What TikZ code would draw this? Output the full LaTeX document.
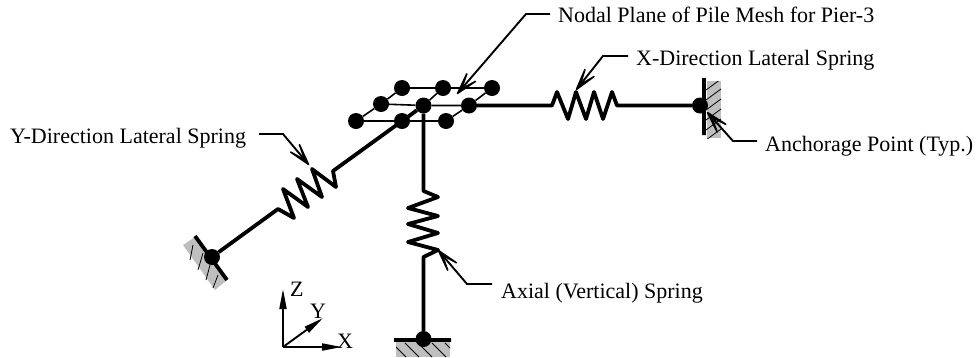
\documentclass[tikz,border=0pt]{standalone}
\usepackage{fontspec}
\setmainfont{Liberation Serif}
\usetikzlibrary{arrows.meta}
\definecolor{hatchgray}{gray}{0.75}
\tikzset{
 x=1pt,y=-1pt,
 dot/.style={circle,fill=black,inner sep=0pt,minimum size=16pt},
 mesh/.style={line width=1.6pt},
 thickline/.style={line width=3.8pt,line join=round},
 leader/.style={line width=1.9pt,-{Stealth[length=40pt,width=22pt,inset=29pt,line width=1.6pt,round]}},
 axisline/.style={line width=1.9pt,-{Stealth[length=20pt,width=7pt,inset=0pt]}},
 txt/.style={font=\fontsize{22}{24}\selectfont,inner sep=0pt,anchor=west},
 hatch/.style={line width=0.8pt}
}
\begin{document}
\begin{tikzpicture}
\useasboundingbox (0,0) rectangle (979,357);
\begin{scope}
\fill[hatchgray] (707,81) rectangle (721,138);
\clip (700,81) rectangle (721,138);
\foreach \a in {90,100,110,120,130,140}{\draw[hatch] (706,\a) -- (721,\a-11);}
\end{scope}
\begin{scope}
\fill[hatchgray] (396,340) rectangle (450,357);
\clip (396,340) rectangle (450,357);
\foreach \a in {392,405,418,432,445}{\draw[hatch] (\a,343) -- (\a+14,357);}
\end{scope}
\fill[hatchgray] (183,245) -- (215,290) -- (227,280) -- (195,237) -- cycle;
\foreach \a/\b/\c/\d in {193/245/190/260,203/253/198/270,210/265/206/280,218/275/213/288}{\draw[hatch] (\a,\b) -- (\c,\d);}
\node[dot] (n1) at (402,88) {};
\node[dot] (n2) at (443,88) {};
\node[dot] (n3) at (492,88) {};
\node[dot] (n4) at (381,104) {};
\node[dot] (n5) at (423.5,105.5) {};
\node[dot] (n6) at (469,105.5) {};
\node[dot] (n7) at (356,121) {};
\node[dot] (n8) at (402,121) {};
\node[dot] (n9) at (446,121) {};
\draw[mesh] (n1)--(n2)--(n3) (n4)--(n5)--(n6) (n7)--(n8)--(n9)
 (n7)--(n4)--(n1) (n2)--(n5)--(n8) (n9)--(n6)--(n3);
\node[dot] (ax) at (700,105.5) {};
\node[dot] (ay) at (212,257) {};
\node[dot] (az) at (423.5,339) {};
\coordinate (w1) at (704,78); \coordinate (w2) at (704,135);
\coordinate (y1) at (195,236); \coordinate (y2) at (227,280);
\coordinate (g1) at (394,340); \coordinate (g2) at (451,340);
\draw[thickline] (w1)--(w2) (y1)--(y2) (g1)--(g2);
\draw[thickline] (n6) -- (552,105.5) -- (557,92) -- (568,119) -- (576,92) -- (586,119) -- (594,92) -- (603,119) -- (612,92) -- (617,105.5) -- (ax);
\draw[thickline] (n5) -- (333,171) -- (336,187) -- (312,169) -- (322,197) -- (297,179) -- (308,207) -- (283,189) -- (294,218) -- (278,209) -- (ay);
\draw[thickline] (n5) -- (423.5,191) -- (438,197) -- (408,208) -- (438,216) -- (408,224) -- (438,233) -- (408,242) -- (438,250) -- (423.5,257) -- (az);
\node[txt] (t1) at (558,15) {Nodal Plane of Pile Mesh for Pier-3};
\node[txt] (t2) at (636,60) {X-Direction Lateral Spring};
\node[txt] (t3) at (10,138) {Y-Direction Lateral Spring};
\node[txt] (t4) at (765,146) {Anchorage Point (Typ.)};
\node[txt] (t5) at (501,293) {Axial (Vertical) Spring};
\coordinate (e1) at (457,94);\coordinate (e2) at (576,90);\coordinate (e3) at (309,165);\coordinate (e4) at (707,112);\coordinate (e5) at (438,250);
\coordinate (s1) at (550,14);\coordinate (s2) at (628,56);\coordinate (s3) at (259,134);\coordinate (s4) at (757,141);\coordinate (s5) at (492,284);
\draw[leader] (s1) -- (526,14) -- (e1);
\draw[leader] (s2) -- (603,56) -- (e2);
\draw[leader] (s3) -- (283,134) -- (e3);
\draw[leader] (s4) -- (733,141) -- (e4);
\draw[leader] (s5) -- (467,284) -- (e5);
\coordinate (o) at (283,347);
\node[txt] (lz) at (290,289) {Z};
\node[txt] (ly) at (310,311) {Y};
\node[txt] (lx) at (337,341) {X};
\coordinate (az1) at (283,289);\coordinate (ay1) at (323,318);\coordinate (ax1) at (342,347);
\draw[axisline] (o)--(az1);
\draw[axisline] (o)--(ay1);
\draw[axisline] (o)--(ax1);
\end{tikzpicture}
\end{document}
